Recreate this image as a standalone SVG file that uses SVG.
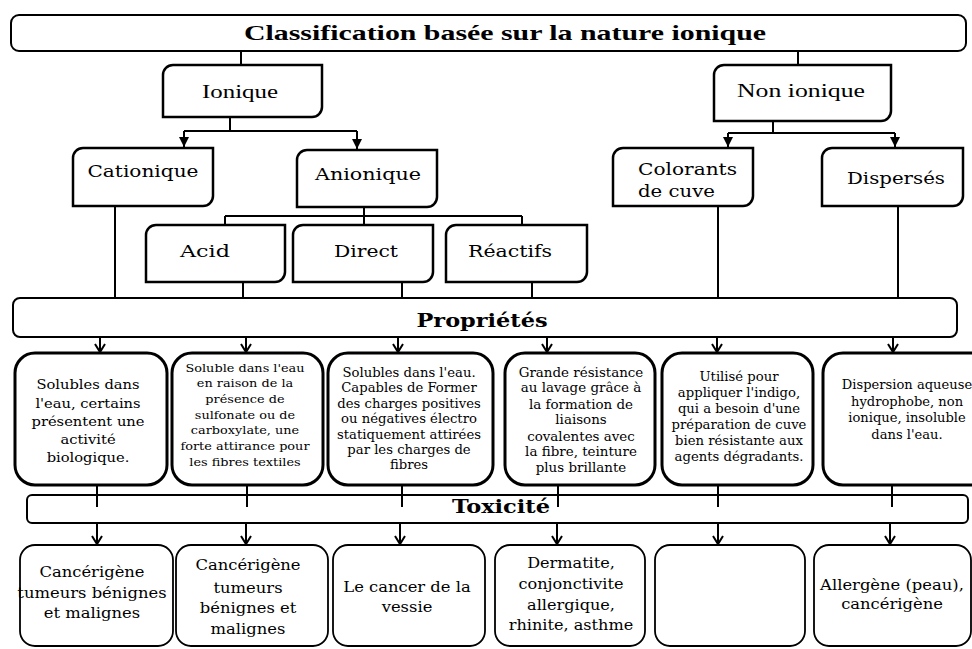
<svg xmlns="http://www.w3.org/2000/svg" width="972" height="649" viewBox="0 0 972 649">
<defs>
<marker id="tri" markerUnits="userSpaceOnUse" markerWidth="12" markerHeight="12" refX="10" refY="5" orient="auto"><path d="M0,0 L10,5 L0,10 z" fill="#000"/></marker>
<marker id="vee" markerUnits="userSpaceOnUse" markerWidth="12" markerHeight="14" refX="9" refY="6" orient="auto"><path d="M1,1 L9,6 L1,11" fill="none" stroke="#000" stroke-width="2"/></marker>
<style>
.t{font-family:"Liberation Serif","Times New Roman",serif;fill:#000}
.d{font-family:"DejaVu Serif","Liberation Serif",serif;fill:#000}
.b{font-weight:bold}
.cat{fill:#fff;stroke:#000;stroke-width:2.5}
.bar{fill:#fff;stroke:#000;stroke-width:2}
.prop{fill:#fff;stroke:#000;stroke-width:3}
.tox{fill:#fff;stroke:#000;stroke-width:1.8}
.ln{stroke:#000;stroke-width:2;fill:none}
.ar{stroke:#000;stroke-width:2;fill:none;marker-end:url(#tri)}
.av{stroke:#000;stroke-width:2;fill:none;marker-end:url(#vee)}
</style>
</defs>
<rect width="972" height="649" fill="#fff"/>

<g id="title">
<rect class="bar" x="11" y="15" width="955" height="36" rx="8"/>
<text class="t b" x="505" y="40" font-size="22" text-anchor="middle" textLength="522" lengthAdjust="spacingAndGlyphs">Classification basée sur la nature ionique</text>
</g>

<g id="ionique">
<path class="cat" d="M173,65 H322 V107 A10,10 0 0 1 312,117 H163 V75 A10,10 0 0 1 173,65 Z"/>
<text class="t" x="240" y="98" font-size="18" text-anchor="middle" textLength="76" lengthAdjust="spacingAndGlyphs">Ionique</text>
</g>
<g id="nonionique">
<path class="cat" d="M724,65 H891 V111 A10,10 0 0 1 881,121 H714 V75 A10,10 0 0 1 724,65 Z"/>
<text class="t" x="801" y="97" font-size="18" text-anchor="middle" textLength="128" lengthAdjust="spacingAndGlyphs">Non ionique</text>
</g>
<g id="cationique">
<path class="cat" d="M83,148 H213 V196 A10,10 0 0 1 203,206 H73 V158 A10,10 0 0 1 83,148 Z"/>
<text class="d" x="143" y="177" font-size="17" text-anchor="middle" textLength="111" lengthAdjust="spacingAndGlyphs">Cationique</text>
</g>
<g id="anionique">
<path class="cat" d="M307,150 H437 V197 A10,10 0 0 1 427,207 H297 V160 A10,10 0 0 1 307,150 Z"/>
<text class="d" x="368" y="180" font-size="17" text-anchor="middle" textLength="106" lengthAdjust="spacingAndGlyphs">Anionique</text>
</g>
<g id="acid">
<path class="cat" d="M156,225 H285 V272 A10,10 0 0 1 275,282 H146 V235 A10,10 0 0 1 156,225 Z"/>
<text class="d" x="205" y="257" font-size="17" text-anchor="middle" textLength="50" lengthAdjust="spacingAndGlyphs">Acid</text>
</g>
<g id="direct">
<path class="cat" d="M303,225 H433 V272 A10,10 0 0 1 423,282 H293 V235 A10,10 0 0 1 303,225 Z"/>
<text class="d" x="366" y="257" font-size="17" text-anchor="middle" textLength="64" lengthAdjust="spacingAndGlyphs">Direct</text>
</g>
<g id="reactifs">
<path class="cat" d="M456,225 H587 V272 A10,10 0 0 1 577,282 H446 V235 A10,10 0 0 1 456,225 Z"/>
<text class="d" x="510" y="257" font-size="17" text-anchor="middle" textLength="84" lengthAdjust="spacingAndGlyphs">Réactifs</text>
</g>
<g id="colorants">
<path class="cat" d="M623,148 H753 V196 A10,10 0 0 1 743,206 H613 V158 A10,10 0 0 1 623,148 Z"/>
<text class="d" x="638" y="175" font-size="17" textLength="99" lengthAdjust="spacingAndGlyphs">Colorants</text>
<text class="d" x="638" y="197" font-size="17" textLength="77" lengthAdjust="spacingAndGlyphs">de cuve</text>
</g>
<g id="disperses">
<path class="cat" d="M832,148 H963 V196 A10,10 0 0 1 953,206 H822 V158 A10,10 0 0 1 832,148 Z"/>
<text class="d" x="896" y="184" font-size="17" text-anchor="middle" textLength="98" lengthAdjust="spacingAndGlyphs">Dispersés</text>
</g>

<g id="proprietes">
<rect class="bar" x="13" y="298" width="944" height="39" rx="7"/>
<text class="d b" x="482" y="327" font-size="19" text-anchor="middle" textLength="131" lengthAdjust="spacingAndGlyphs">Propriétés</text>
</g>

<g id="prop1">
<rect class="prop" x="15" y="353" width="152" height="132" rx="20"/>
<text class="d" font-size="13" text-anchor="middle" transform="matrix(1.13,0,0,1,88,0)"><tspan x="0" y="389">Solubles dans</tspan><tspan x="0" y="408">l'eau, certains</tspan><tspan x="0" y="426">présentent une</tspan><tspan x="0" y="444">activité</tspan><tspan x="0" y="462">biologique.</tspan></text>
</g>
<g id="prop2">
<rect class="prop" x="172" y="353" width="151" height="132" rx="20"/>
<text class="d" font-size="11" text-anchor="middle" transform="matrix(1.17,0,0,1,245,0)"><tspan x="0" y="372">Soluble dans l'eau</tspan><tspan x="0" y="387.5">en raison de la</tspan><tspan x="0" y="403">présence de</tspan><tspan x="0" y="419">sulfonate ou de</tspan><tspan x="0" y="434">carboxylate, une</tspan><tspan x="0" y="450">forte attirance pour</tspan><tspan x="0" y="466">les fibres textiles</tspan></text>
</g>
<g id="prop3">
<rect class="prop" x="328" y="353" width="165" height="132" rx="20"/>
<text class="d" font-size="12" text-anchor="middle" transform="matrix(1.1,0,0,1,409,0)"><tspan x="0" y="377">Solubles dans l'eau.</tspan><tspan x="0" y="392">Capables de Former</tspan><tspan x="0" y="408">des charges positives</tspan><tspan x="0" y="423">ou négatives électro</tspan><tspan x="0" y="439">statiquement attirées</tspan><tspan x="0" y="454">par les charges de</tspan><tspan x="0" y="469">fibres</tspan></text>
</g>
<g id="prop4">
<rect class="prop" x="505" y="353" width="150" height="132" rx="20"/>
<text class="d" font-size="12" text-anchor="middle" transform="matrix(1.12,0,0,1,581,0)"><tspan x="0" y="377">Grande résistance</tspan><tspan x="0" y="392">au lavage grâce à</tspan><tspan x="0" y="409">la formation de</tspan><tspan x="0" y="424">liaisons</tspan><tspan x="0" y="441">covalentes avec</tspan><tspan x="0" y="456">la fibre, teinture</tspan><tspan x="0" y="472">plus brillante</tspan></text>
</g>
<g id="prop5">
<rect class="prop" x="662" y="353" width="151" height="132" rx="20"/>
<text class="d" font-size="12" text-anchor="middle" transform="matrix(1.1,0,0,1,739,0)"><tspan x="0" y="381">Utilisé pour</tspan><tspan x="0" y="397">appliquer l'indigo,</tspan><tspan x="0" y="413">qui a besoin d'une</tspan><tspan x="0" y="429">préparation de cuve</tspan><tspan x="0" y="445">bien résistante aux</tspan><tspan x="0" y="461">agents dégradants.</tspan></text>
</g>
<g id="prop6">
<rect class="prop" x="823" y="353" width="170" height="132" rx="20"/>
<text class="d" font-size="12" text-anchor="middle" transform="matrix(1.09,0,0,1,907,0)"><tspan x="0" y="389">Dispersion aqueuse</tspan><tspan x="0" y="406">hydrophobe, non</tspan><tspan x="0" y="422">ionique, insoluble</tspan><tspan x="0" y="439">dans l'eau.</tspan></text>
</g>

<g id="toxicite">
<rect class="bar" x="27" y="495" width="941" height="28" rx="5"/>
<text class="d b" x="501" y="513" font-size="19" text-anchor="middle" textLength="98" lengthAdjust="spacingAndGlyphs">Toxicité</text>
</g>

<g id="tox1">
<rect class="tox" x="20" y="545" width="153" height="101" rx="15"/>
<text class="d" font-size="14" text-anchor="middle" transform="matrix(1.17,0,0,1,92,0)"><tspan x="0" y="577">Cancérigène</tspan><tspan x="0" y="598">tumeurs bénignes</tspan><tspan x="0" y="618">et malignes</tspan></text>
</g>
<g id="tox2">
<rect class="tox" x="176" y="545" width="152" height="101" rx="15"/>
<text class="d" font-size="14" text-anchor="middle" transform="matrix(1.17,0,0,1,248,0)"><tspan x="0" y="570">Cancérigène</tspan><tspan x="0" y="593">tumeurs</tspan><tspan x="0" y="613">bénignes et</tspan><tspan x="0" y="634">malignes</tspan></text>
</g>
<g id="tox3">
<rect class="tox" x="333" y="545" width="152" height="101" rx="15"/>
<text class="d" font-size="14" text-anchor="middle" transform="matrix(1.17,0,0,1,407,0)"><tspan x="0" y="592">Le cancer de la</tspan><tspan x="0" y="612">vessie</tspan></text>
</g>
<g id="tox4">
<rect class="tox" x="495" y="545" width="150" height="101" rx="15"/>
<text class="d" font-size="14" text-anchor="middle" transform="matrix(1.15,0,0,1,571,0)"><tspan x="0" y="568">Dermatite,</tspan><tspan x="0" y="589">conjonctivite</tspan><tspan x="0" y="610">allergique,</tspan><tspan x="0" y="630">rhinite, asthme</tspan></text>
</g>
<g id="tox5">
<rect class="tox" x="655" y="545" width="150" height="101" rx="15"/>
</g>
<g id="tox6">
<rect class="tox" x="814" y="545" width="157" height="101" rx="15"/>
<text class="d" font-size="14" text-anchor="middle" transform="matrix(1.17,0,0,1,892,0)"><tspan x="0" y="590">Allergène (peau),</tspan><tspan x="0" y="609">cancérigène</tspan></text>
</g>

<g id="connectors">
<path class="ln" d="M241,51 V65 M798,51 V65"/>
<path class="ln" d="M230,117 V131 M184,131 H357 M773,121 V133 M728,133 H895"/>
<path class="ar" d="M184,131 V147"/>
<path class="ar" d="M357,131 V149"/>
<path class="ar" d="M728,133 V147"/>
<path class="ar" d="M895,133 V147"/>
<path class="ln" d="M364,207 V216 M225,216 H522 M225,216 V225 M364,216 V225 M522,216 V225"/>
<path class="ln" d="M115,206 V298 M243,282 V298 M402,282 V298 M532,282 V298 M718,206 V298 M898,206 V298"/>
<path class="av" d="M100,337 V352"/>
<path class="av" d="M246,337 V352"/>
<path class="av" d="M398,337 V352"/>
<path class="av" d="M547,337 V352"/>
<path class="av" d="M717,337 V352"/>
<path class="av" d="M893,337 V352"/>
<path class="ln" d="M97,485 V507 M247,485 V507 M402,485 V507 M558,485 V507 M718,485 V507 M892,485 V507"/>
<path class="av" d="M97,523 V544"/>
<path class="av" d="M246,523 V544"/>
<path class="av" d="M400,523 V544"/>
<path class="av" d="M557,523 V544"/>
<path class="av" d="M718,523 V544"/>
<path class="av" d="M890,523 V544"/>
</g>
</svg>
